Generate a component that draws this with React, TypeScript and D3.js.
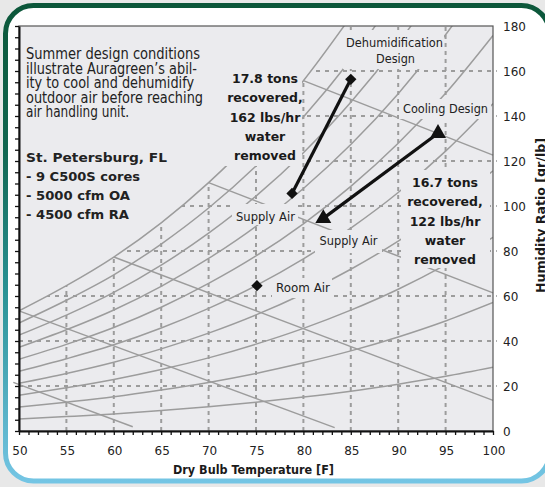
import React, { useEffect, useRef } from "react";
import * as d3 from "d3";

// dry bulb temperature [F] at which the relative humidity curves are read
const dryBulb = [50, 55, 60, 65, 70, 75, 80, 85, 90, 95, 100];

// humidity ratio [gr/lb] for each relative humidity curve (10% .. 100%)
const rh10 = [5.3, 6.4, 7.6, 9.1, 10.8, 12.8, 15.1, 17.7, 20.8, 24.3, 28.3];
const rh20 = [10.6, 12.8, 15.2, 18.2, 21.6, 25.6, 30.3, 35.6, 41.8, 48.9, 57.1];
const rh30 = [15.9, 19.2, 22.9, 27.3, 32.5, 38.6, 45.6, 53.7, 63.0, 73.8, 86.1];
const rh40 = [21.2, 25.6, 30.6, 36.5, 43.5, 51.6, 61.0, 71.9, 84.4, 98.9, 115.6];
const rh50 = [26.5, 32.1, 38.3, 45.8, 54.5, 64.6, 76.5, 90.2, 106.0, 124.4, 145.5];
const rh60 = [31.9, 38.5, 46.0, 55.0, 65.6, 77.8, 92.1, 108.7, 127.9, 150.1, 175.8];
const rh70 = [37.2, 45.0, 53.8, 64.3, 76.7, 91.0, 107.8, 127.3, 149.9, 176.1, 206.4];
const rh80 = [42.6, 51.5, 61.6, 73.7, 87.9, 104.4, 123.7, 146.1, 172.2, 202.5];
const rh90 = [48.0, 58.1, 69.4, 83.1, 99.1, 117.8, 139.6, 165.1, 194.7];
const rh100 = [53.4, 64.6, 77.3, 92.5, 110.4, 131.2, 155.7, 184.2];

// wet bulb lines: [dry bulb, humidity ratio] start and end
const wb40 = [[49.4, 21.6], [62.0, 1.9]];
const wb50 = [[50, 53.4], [83.3, 1.5]];
const wb60 = [[60, 77.3], [100, 13.6]];
const wb70 = [[70, 110.4], [100, 61.4]];
const wb80 = [[80, 155.7], [100, 122.6]];

// state points
const dehumDesign = [85.0, 156.3];
const dehumSupply = [78.8, 105.6];
const coolDesign = [94.2, 132.3];
const coolSupply = [82.1, 94.5];
const roomAir = [75.1, 64.6];

const xTicks = [50, 55, 60, 65, 70, 75, 80, 85, 90, 95, 100];
const yTicks = [0, 20, 40, 60, 80, 100, 120, 140, 160, 180];
const xGrid = [55, 60, 65, 70, 75, 80, 85, 90, 95];
const yGrid = [20, 40, 60, 80, 100, 120, 140, 160];

const introLines = [
  "Summer design conditions",
  "illustrate Auragreen\u2019s abil-",
  "ity to cool and dehumidify",
  "outdoor air before reaching",
  "air handling unit.",
];
const siteLines = ["St. Petersburg, FL", "- 9 C500S cores", "- 5000 cfm OA", "- 4500 cfm RA"];
const dehumNote = ["17.8 tons", "recovered,", "162 lbs/hr", "water", "removed"];
const coolNote = ["16.7 tons", "recovered,", "122 lbs/hr", "water", "removed"];

const PLOT_BG = "#ebebee";
const GRAY = "#9c9c9c";
const SANS = "'DejaVu Sans', Verdana, sans-serif";
const NARROW = "'Liberation Sans Narrow', 'DejaVu Sans Condensed', 'Arial Narrow', sans-serif";

const App = () => {
  const ref = useRef<HTMLDivElement>(null);

  useEffect(() => {
    d3.select(ref.current).select("svg").remove();

    const W = 545;
    const H = 487;
    const svg = d3
      .select(ref.current)
      .append("svg")
      .attr("width", W)
      .attr("height", H)
      .style("position", "absolute")
      .style("left", 0)
      .style("top", 0);

    const x = d3.scaleLinear().domain([50, 100]).range([19, 493]);
    const y = d3.scaleLinear().domain([0, 180]).range([431, 26]);

    // outer frame
    const defs = svg.append("defs");
    const grad = defs
      .append("linearGradient")
      .attr("id", "frameGrad")
      .attr("x1", 0)
      .attr("y1", 0)
      .attr("x2", 0)
      .attr("y2", 1);
    [
      [0, "#0c573a"],
      [0.3, "#126650"],
      [0.6, "#2a9294"],
      [1, "#74c5e4"],
    ].forEach(([o, c]) => grad.append("stop").attr("offset", o as number).attr("stop-color", c as string));

    defs
      .append("clipPath")
      .attr("id", "plotClip")
      .append("rect")
      .attr("x", 19)
      .attr("y", 26)
      .attr("width", 474)
      .attr("height", 405);

    // grid only below / right of the saturation curve
    const satPts = rh100.map((v, i) => [dryBulb[i], v]).concat([[100.4, 184.2]]);
    const satArea = d3
      .area<number[]>()
      .x((d) => x(d[0]))
      .y0(y(-2))
      .y1((d) => Math.max(y(d[1]), 26))
      .curve(d3.curveMonotoneX);
    defs.append("clipPath").attr("id", "satClip").append("path").attr("d", satArea(satPts));

    svg.append("rect").attr("width", W).attr("height", H).attr("fill", "#e8e8e8");
    svg
      .append("rect")
      .attr("x", 5.5)
      .attr("y", 5.5)
      .attr("width", 544)
      .attr("height", 475.5)
      .attr("rx", 28)
      .attr("fill", "#ffffff")
      .attr("stroke", "url(#frameGrad)")
      .attr("stroke-width", 5);

    svg
      .append("rect")
      .attr("x", 19)
      .attr("y", 26)
      .attr("width", 474)
      .attr("height", 405)
      .attr("fill", PLOT_BG);

    const grid = svg.append("g").attr("clip-path", "url(#satClip)");
    grid
      .selectAll("line.vx")
      .data(xGrid)
      .join("line")
      .attr("x1", (d) => x(d))
      .attr("x2", (d) => x(d))
      .attr("y1", y(0))
      .attr("y2", y(180))
      .attr("stroke", GRAY)
      .attr("stroke-width", 2)
      .attr("stroke-dasharray", "4,4");
    grid
      .selectAll("line.hy")
      .data(yGrid)
      .join("line")
      .attr("x1", x(50))
      .attr("x2", 497)
      .attr("y1", (d) => y(d))
      .attr("y2", (d) => y(d))
      .attr("stroke", GRAY)
      .attr("stroke-width", 2)
      .attr("stroke-dasharray", "4,5");

    // relative humidity curves
    const rhCurves = [rh10, rh20, rh30, rh40, rh50, rh60, rh70, rh80, rh90, rh100];
    const line = d3
      .line<number[]>()
      .x((d) => x(d[0]))
      .y((d) => y(d[1]))
      .curve(d3.curveMonotoneX);
    svg
      .append("g")
      .attr("clip-path", "url(#plotClip)")
      .selectAll("path")
      .data(rhCurves)
      .join("path")
      .attr("d", (vals) => line(vals.map((v, i) => [dryBulb[i], v])))
      .attr("fill", "none")
      .attr("stroke", GRAY)
      .attr("stroke-width", 1.5);

    // wet bulb lines
    svg
      .append("g")
      .selectAll("path")
      .data([wb40, wb50, wb60, wb70, wb80])
      .join("path")
      .attr("d", (d) => d3.line<number[]>().x((p) => x(p[0])).y((p) => y(p[1]))(d))
      .attr("fill", "none")
      .attr("stroke", GRAY)
      .attr("stroke-width", 1.5);

    // labels with a background box that hides the lines
    const boxes = [
      [343, 30, 101, 39],
      [399, 99, 92, 20],
      [222, 66, 80, 100],
      [401, 170, 89, 98],
      [232, 204, 66, 21],
      [315, 230, 67, 23],
      [272, 278, 60, 20],
    ];
    svg
      .append("g")
      .selectAll("rect")
      .data(boxes)
      .join("rect")
      .attr("x", (d) => d[0])
      .attr("y", (d) => d[1])
      .attr("width", (d) => d[2])
      .attr("height", (d) => d[3])
      .attr("fill", PLOT_BG);

    const small = [
      ["Dehumidification", 394.5, 47, 97],
      ["Design", 395.5, 63, 39],
      ["Cooling Design", 445.5, 113, 85],
      ["Supply Air", 265.5, 221, 59],
      ["Supply Air", 348.5, 245, 58],
      ["Room Air", 303, 292, 54],
    ];
    svg
      .append("g")
      .selectAll("text")
      .data(small)
      .join("text")
      .attr("x", (d) => d[1] as number)
      .attr("y", (d) => d[2] as number)
      .attr("text-anchor", "middle")
      .attr("textLength", (d) => d[3] as number)
      .attr("lengthAdjust", "spacingAndGlyphs")
      .attr("font-family", SANS)
      .attr("font-size", 11.5)
      .attr("fill", "#222")
      .text((d) => d[0] as string);

    const note = (lines: string[], cx: number, top: number) =>
      svg
        .append("g")
        .selectAll("text")
        .data(lines)
        .join("text")
        .attr("x", cx)
        .attr("y", (d, i) => top + i * 19.3)
        .attr("text-anchor", "middle")
        .attr("font-family", SANS)
        .attr("font-weight", "bold")
        .attr("font-size", 12.5)
        .attr("fill", "#1a1a1a")
        .text((d) => d);
    note(dehumNote, 265, 83);
    note(coolNote, 445, 187);

    const introW = [174, 171, 168, 177, 103];
    svg
      .append("g")
      .selectAll("text")
      .data(introLines)
      .join("text")
      .attr("x", 26)
      .attr("y", (d, i) => 59 + i * 14.5)
      .attr("textLength", (d, i) => introW[i])
      .attr("lengthAdjust", "spacingAndGlyphs")
      .attr("font-family", NARROW)
      .attr("font-size", 16)
      .attr("fill", "#222")
      .text((d) => d);

    const siteW = [141, 114, 104, 103];
    svg
      .append("g")
      .selectAll("text")
      .data(siteLines)
      .join("text")
      .attr("x", 26)
      .attr("y", (d, i) => 162 + i * 19)
      .attr("textLength", (d, i) => siteW[i])
      .attr("lengthAdjust", "spacingAndGlyphs")
      .attr("font-family", SANS)
      .attr("font-weight", "bold")
      .attr("font-size", 12.5)
      .attr("fill", "#222")
      .text((d) => d);

    // process lines and markers
    [
      [dehumSupply, dehumDesign],
      [coolDesign, coolSupply],
    ].forEach((pair) => {
      svg
        .append("path")
        .attr("d", line.curve(d3.curveLinear)(pair))
        .attr("fill", "none")
        .attr("stroke", "#111")
        .attr("stroke-width", 3.2);
    });
    const triangle = d3.symbol().type(d3.symbolTriangle).size(110);
    svg
      .append("g")
      .selectAll("path")
      .data([dehumDesign, dehumSupply, roomAir])
      .join("path")
      .attr("transform", (d) => `translate(${x(d[0])},${y(d[1])}) rotate(45)`)
      .attr("d", d3.symbol().type(d3.symbolSquare).size(64)())
      .attr("fill", "#111");
    svg
      .append("g")
      .selectAll("path")
      .data([coolDesign, coolSupply])
      .join("path")
      .attr("transform", (d) => `translate(${x(d[0])},${y(d[1])})`)
      .attr("d", triangle())
      .attr("fill", "#111");

    // plot border and axes
    svg
      .append("rect")
      .attr("x", 19)
      .attr("y", 26)
      .attr("width", 474)
      .attr("height", 405)
      .attr("fill", "none")
      .attr("stroke", "#555")
      .attr("stroke-width", 1.2);

    svg
      .append("g")
      .attr("transform", `translate(0,${y(0)})`)
      .call(
        d3
          .axisBottom(x)
          .ticks(50)
          .tickSize(4)
          .tickFormat(() => "")
          .tickSizeOuter(0)
      )
      .call((g) => g.select(".domain").attr("stroke", "#111").attr("stroke-width", 2))
      .call((g) => g.selectAll(".tick line").attr("stroke", "#111").attr("stroke-width", 1.3));
    svg
      .append("g")
      .attr("transform", `translate(${x(50)},0)`)
      .call(
        d3
          .axisLeft(y)
          .tickValues(d3.range(0, 181, 5))
          .tickSize(4)
          .tickFormat(() => "")
          .tickSizeOuter(0)
      )
      .call((g) => g.select(".domain").attr("stroke", "#111").attr("stroke-width", 2))
      .call((g) => g.selectAll(".tick line").attr("stroke", "#111").attr("stroke-width", 1.3));

    svg
      .append("g")
      .selectAll("text")
      .data(xTicks)
      .join("text")
      .attr("x", (d) => x(d) + 1)
      .attr("y", 455)
      .attr("text-anchor", "middle")
      .attr("font-family", SANS)
      .attr("font-size", 12)
      .attr("fill", "#222")
      .text((d) => d);
    svg
      .append("g")
      .selectAll("text")
      .data(yTicks)
      .join("text")
      .attr("x", 503)
      .attr("y", (d) => y(d) + 4.5)
      .attr("font-family", SANS)
      .attr("font-size", 12)
      .attr("fill", "#222")
      .text((d) => d);

    svg
      .append("text")
      .attr("x", 253.5)
      .attr("y", 474)
      .attr("text-anchor", "middle")
      .attr("textLength", 161)
      .attr("lengthAdjust", "spacingAndGlyphs")
      .attr("font-family", SANS)
      .attr("font-weight", "bold")
      .attr("font-size", 12)
      .attr("fill", "#1a1a1a")
      .text("Dry Bulb Temperature [F]");
    svg
      .append("text")
      .attr("transform", "translate(544.5,215.5) rotate(-90)")
      .attr("text-anchor", "middle")
      .attr("textLength", 155)
      .attr("lengthAdjust", "spacingAndGlyphs")
      .attr("font-family", SANS)
      .attr("font-weight", "bold")
      .attr("font-size", 12)
      .attr("fill", "#1a1a1a")
      .text("Humidity Ratio [gr/lb]");
  }, []);

  return <div ref={ref}></div>;
};

export default App;
